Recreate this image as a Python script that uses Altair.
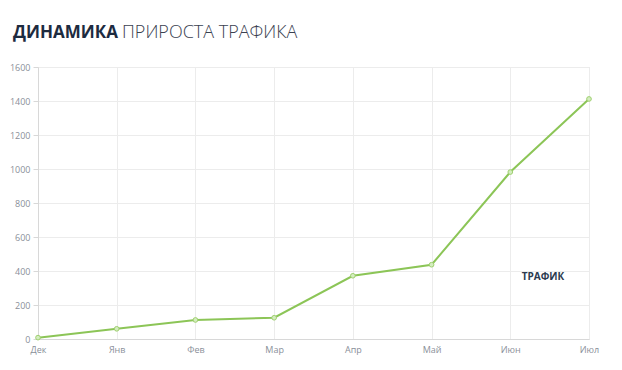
import altair as alt
import pandas as pd

months = ["Дек", "Янв", "Фев", "Мар", "Апр", "Май", "Июн", "Июл"]
traffic = [8, 60, 112, 125, 372, 437, 982, 1412]
series_name = "ТРАФИК"
title_bold = "ДИНАМИКА"
title_light = "ПРИРОСТА ТРАФИКА"
y_ticks = [0, 200, 400, 600, 800, 1000, 1200, 1400, 1600]

df = pd.DataFrame({"month": months, "value": traffic})

x = alt.X("month:N", sort=months, title=None,
          scale=alt.Scale(paddingOuter=0, padding=0),
          axis=alt.Axis(labelAngle=0, labelColor="#8a8f99", labelFontSize=9,
                        labelFont="Open Sans", domainColor="#d8d8d8", tickSize=0,
                        gridColor="#ececec", grid=True, labelPadding=6))
y = alt.Y("value:Q", title=None,
          scale=alt.Scale(domain=[0, 1600], nice=False),
          axis=alt.Axis(values=y_ticks, format="d", labelColor="#8a8f99", labelFontSize=9,
                        labelFont="Open Sans", domain=True, domainColor="#d8d8d8",
                        tickColor="#d8d8d8", tickSize=5, gridColor="#ececec",
                        labelPadding=3))

line = alt.Chart(df).mark_line(color="#8cc557", strokeWidth=2).encode(x=x, y=y)
pts = alt.Chart(df).mark_point(filled=True, size=22, fill="#d4edbf",
                               stroke="#9fd070", strokeWidth=1, opacity=1).encode(x=x, y=y)

tdf = pd.DataFrame({"t": [series_name]})
legend = alt.Chart(tdf).mark_text(font="Open Sans", fontWeight="bold", fontSize=10,
                                  color="#2b3a4f", align="center", baseline="middle").encode(
    text="t:N", x=alt.value(505), y=alt.value(210))

t1 = alt.Chart(pd.DataFrame({"t": [title_bold]})).mark_text(
    font="Open Sans", fontWeight="bold", fontSize=17, color="#1d2b40",
    align="left", baseline="alphabetic").encode(text="t:N", x=alt.value(-25), y=alt.value(-29))
t2 = alt.Chart(pd.DataFrame({"t": [title_light]})).mark_text(
    font="Open Sans", fontWeight=300, fontSize=18, color="#3a4150",
    align="left", baseline="alphabetic").encode(text="t:N", x=alt.value(84), y=alt.value(-29))

chart = alt.layer(line, pts, legend, t1, t2).properties(
    width=551, height=272,
    autosize=alt.AutoSizeParams(type="none"),
    padding={"left": 30, "top": 59, "right": 25, "bottom": 25},
).configure_view(stroke=None).configure(background="white")

chart.save("out.html", embed_options={"renderer": "svg", "actions": False})
